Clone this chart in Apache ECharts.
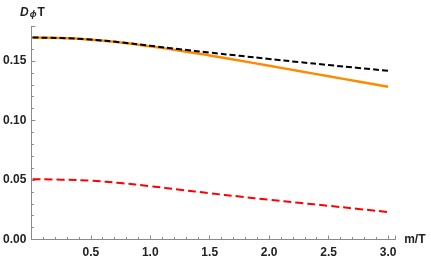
<!DOCTYPE html>
<html>
<head>
<meta charset="utf-8">
<script src="https://cdn.jsdelivr.net/npm/echarts@6/dist/echarts.min.js"></script>
<style>
html,body{margin:0;padding:0;background:#fff;}
#chart{width:431px;height:263px;}
</style>
</head>
<body>
<div id="chart"></div>
<script>
const xValues = [0.01, 0.25, 0.5, 0.75, 1.0, 1.25, 1.5, 1.75, 2.0, 2.25, 2.5, 2.75, 3.0];
const blackDashed = [0.1697, 0.1693, 0.1680, 0.1657, 0.1628, 0.1599, 0.1571, 0.1544, 0.1517, 0.1491, 0.1466, 0.1442, 0.1418];
const orangeSolid = [0.1697, 0.1693, 0.1679, 0.1655, 0.1623, 0.1587, 0.1547, 0.1504, 0.1460, 0.1416, 0.1372, 0.1328, 0.1284];
const redDashed = [0.0506, 0.0503, 0.0494, 0.0474, 0.0448, 0.0418, 0.0389, 0.0361, 0.0334, 0.0308, 0.0283, 0.0257, 0.0231];
const xTickLabels = ['0.5', '1.0', '1.5', '2.0', '2.5', '3.0'];
const yTickLabels = ['0.00', '0.05', '0.10', '0.15'];

const pairs = arr => xValues.map((x, i) => [x, arr[i]]);
const chart = echarts.init(document.getElementById('chart'), null, {renderer: 'canvas'});
const FONT = 'Liberation Sans, Arial, sans-serif';
const labelStyle = {color: '#222', fontFamily: FONT, fontWeight: 'bold', fontSize: 12};
const axisColor = '#8a8a8a';

chart.setOption({
  animation: false,
  grid: {left: 31, right: 35.8, top: 26.5, bottom: 23.5},
  graphic: [{
    type: 'text', left: 20, top: 3, z: 10,
    style: {
      text: '{d|D}{p|ϕ}{t|T}',
      rich: {
        d: {fontFamily: FONT, fontWeight: 'bold', fontStyle: 'italic', fontSize: 12, fill: '#222', verticalAlign: 'top', lineHeight: 12},
        p: {fontFamily: FONT, fontWeight: 'bold', fontStyle: 'italic', fontSize: 9, fill: '#222', verticalAlign: 'bottom', lineHeight: 9, padding: [7, 1, 0, 1]},
        t: {fontFamily: FONT, fontWeight: 'bold', fontSize: 12, fill: '#222', verticalAlign: 'top', lineHeight: 12}
      }
    }
  }],
  xAxis: {
    type: 'value', min: 0, max: 3.06, interval: 0.5,
    axisLine: {show: true, lineStyle: {color: axisColor, width: 1}},
    axisTick: {show: true, inside: true, length: 4, lineStyle: {color: axisColor}},
    minorTick: {show: true, splitNumber: 5, length: 2.5, lineStyle: {color: axisColor}},
    splitLine: {show: false},
    axisLabel: Object.assign({}, labelStyle, {margin: 7, showMinLabel: true, showMaxLabel: true,
      formatter: v => { const s = v.toFixed(1); return xTickLabels.includes(s) ? s : ''; }}),
    name: 'm/T', nameLocation: 'end', nameGap: 9,
    nameTextStyle: Object.assign({}, labelStyle, {padding: [5, 0, 0, 0]})
  },
  yAxis: {
    type: 'value', min: 0, max: 0.179, interval: 0.05,
    axisLine: {show: true, lineStyle: {color: axisColor, width: 1}},
    axisTick: {show: true, inside: true, length: 4, lineStyle: {color: axisColor}},
    minorTick: {show: true, splitNumber: 5, length: 2.5, lineStyle: {color: axisColor}},
    splitLine: {show: false},
    axisLabel: Object.assign({}, labelStyle, {margin: 5,
      formatter: v => { const s = v.toFixed(2); return yTickLabels.includes(s) ? s : ''; }})
  },
  series: [
    {type: 'line', data: pairs(orangeSolid), showSymbol: false, smooth: 0.5,
      lineStyle: {color: '#ff8a00', width: 2.5, type: 'solid'}, z: 2},
    {type: 'line', data: pairs(blackDashed), showSymbol: false, smooth: 0.5,
      lineStyle: {color: '#000', width: 2, type: [6, 3]}, z: 3},
    {type: 'line', data: pairs(redDashed), showSymbol: false, smooth: 0.5,
      lineStyle: {color: '#ff0000', width: 2, type: [8, 4]}, z: 3}
  ]
});
</script>
</body>
</html>
